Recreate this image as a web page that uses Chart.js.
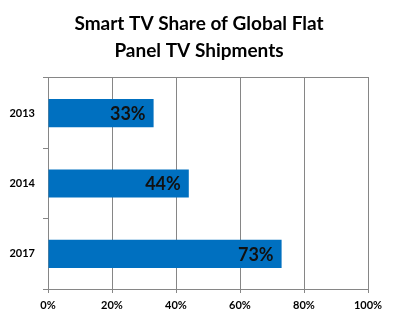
<!DOCTYPE html>
<html>
<head>
<meta charset="utf-8">
<script src="https://cdn.jsdelivr.net/npm/chart.js@4/dist/chart.umd.min.js"></script>
<style>
  html, body { margin: 0; padding: 0; background: #fff; }
  canvas { display: block; }
</style>
</head>
<body>
<canvas id="smartTvChart" width="398" height="323"></canvas>
<script>
  // Smart TV share of flat panel TV shipments, per year (%)
  const years = ['2013', '2014', '2017']
  const smartShare = [33, 44, 73]
  const titleLines = ['Smart TV Share of Global Flat', 'Panel TV Shipments']

  const gridGray = '#868686'
  const fontFamily = 'Lato, "Open Sans", sans-serif'

  // write each bar's value just inside its right end
  const barValueLabels = {
    id: 'barValueLabels',
    afterDatasetsDraw (chart) {
      const { ctx } = chart
      const meta = chart.getDatasetMeta(0)
      ctx.save()
      ctx.font = 'bold 18px ' + fontFamily
      ctx.fillStyle = '#111'
      ctx.textAlign = 'right'
      ctx.textBaseline = 'middle'
      meta.data.forEach((bar, i) => {
        ctx.fillText(smartShare[i] + '%', bar.x - 8, bar.y + 1)
      })
      ctx.restore()
    }
  }

  const ctx = document.getElementById('smartTvChart')
  // eslint-disable-next-line no-unused-vars
  const smartTvChart = new Chart(ctx, {
    type: 'bar',
    data: {
      labels: years,
      datasets: [{
        data: smartShare,
        backgroundColor: '#0070C0',
        borderWidth: 0,
        barPercentage: 0.4,
        categoryPercentage: 1
      }]
    },
    plugins: [barValueLabels],
    options: {
      indexAxis: 'y',
      responsive: false,
      animation: false,
      plugins: {
        legend: { display: false },
        tooltip: { enabled: false },
        title: {
          display: true,
          text: titleLines,
          color: '#000',
          font: { family: fontFamily, size: 19, weight: 'bold', lineHeight: 1.42 },
          padding: { top: 10, bottom: 14 }
        }
      },
      scales: {
        x: {
          min: 0,
          max: 100,
          afterFit: (scale) => { scale.height = 34 },
          ticks: {
            stepSize: 20,
            padding: 6,
            color: '#000',
            font: { family: fontFamily, size: 11, weight: 'bold' },
            callback: (v) => v + '%'
          },
          grid: { color: gridGray, lineWidth: 1, tickLength: 4 },
          border: { color: gridGray, width: 1 }
        },
        xTop: {
          type: 'linear',
          position: 'top',
          min: 0,
          max: 100,
          afterFit: (scale) => { scale.height = 0 },
          ticks: { display: false },
          grid: { display: false },
          border: { color: gridGray, width: 1 }
        },
        y: {
          afterFit: (scale) => { scale.width = 48 },
          ticks: {
            padding: 8,
            color: '#000',
            font: { family: fontFamily, size: 11, weight: 'bold' }
          },
          grid: {
            offset: true,
            drawOnChartArea: false,
            color: gridGray,
            lineWidth: 1,
            tickLength: 5
          },
          border: { color: gridGray, width: 1 }
        },
        // empty right-hand gutter so the title stays centred on the canvas
        yRight: {
          type: 'category',
          labels: years,
          position: 'right',
          afterFit: (scale) => { scale.width = 30 },
          ticks: { display: false },
          grid: { display: false },
          border: { display: false }
        }
      }
    }
  })
</script>
</body>
</html>
